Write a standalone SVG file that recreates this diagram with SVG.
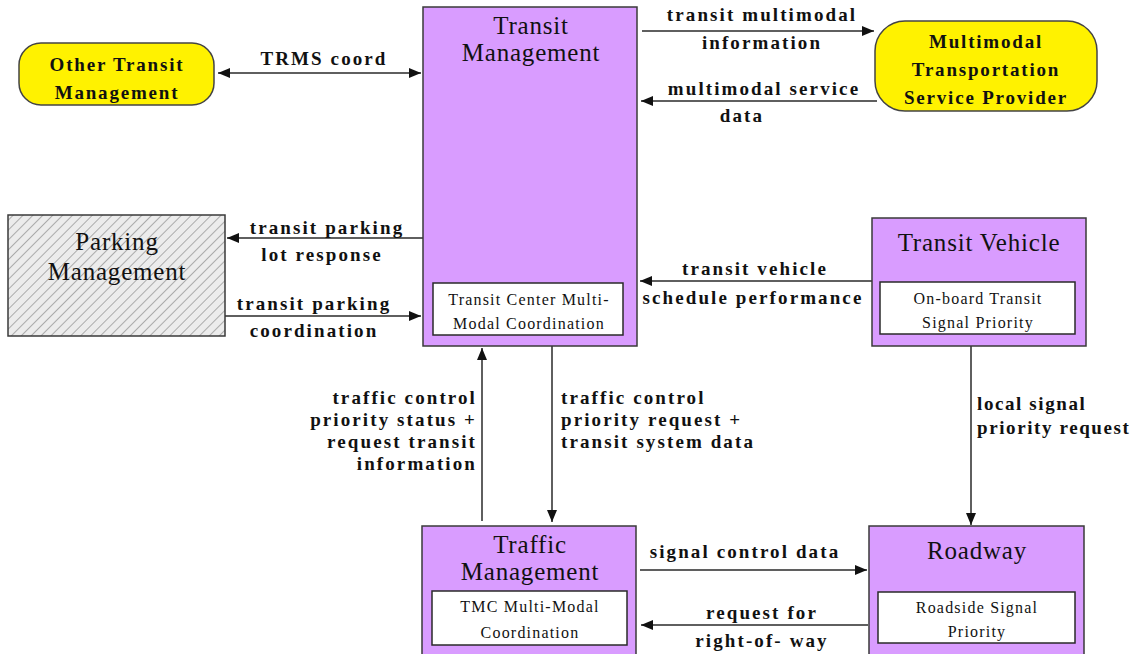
<svg xmlns="http://www.w3.org/2000/svg" width="1138" height="654" viewBox="0 0 1138 654">
  <style>
    .box { fill: #D99CFF; stroke: #3a3a3a; stroke-width: 1.5; }
    .inner { fill: #ffffff; stroke: #2a2a2a; stroke-width: 1.5; }
    .term { fill: #FFF200; stroke: #444444; stroke-width: 1.5; }
    .title { font-family: "Liberation Serif", "Times New Roman", serif; font-size: 25px; fill: #111; text-anchor: middle; letter-spacing: 0.8px; }
    .tbold { font-family: "Liberation Serif", "Times New Roman", serif; font-size: 19px; font-weight: bold; fill: #111; text-anchor: middle; letter-spacing: 1.8px; }
    .small { font-family: "Liberation Serif", "Times New Roman", serif; font-size: 16px; fill: #111; text-anchor: middle; letter-spacing: 1.2px; }
    .lbl { font-family: "Liberation Serif", "Times New Roman", serif; font-size: 19px; font-weight: bold; fill: #111; letter-spacing: 2.1px; }
    .mid { text-anchor: middle; }
    .end { text-anchor: end; }
    .start { text-anchor: start; }
    .tight { letter-spacing: 1.6px; }
    .flow { stroke: #2a2a2a; stroke-width: 1.5; fill: none; marker-end: url(#arrow); }
  </style>
  <defs>
    <marker id="arrow" viewBox="0 0 12 10" refX="12" refY="5" markerWidth="12" markerHeight="10" markerUnits="userSpaceOnUse" orient="auto-start-reverse">
      <path d="M0,0 L12,5 L0,10 Z" fill="#111"/>
    </marker>
    <pattern id="hatch" width="7" height="7" patternUnits="userSpaceOnUse" patternTransform="rotate(45)">
      <rect width="7" height="7" fill="#ececec"/>
      <line x1="0" y1="0" x2="0" y2="7" stroke="#9a9a9a" stroke-width="1.6"/>
    </pattern>
  </defs>

  <rect width="1138" height="654" fill="#ffffff"/>

  <!-- connectors -->
  <g id="connectors">
    <line class="flow" x1="218" y1="73" x2="421" y2="73" marker-start="url(#arrow)"/>
    <line class="flow" x1="642" y1="31" x2="874" y2="31"/>
    <line class="flow" x1="877" y1="101" x2="641" y2="101"/>
    <line class="flow" x1="423" y1="238" x2="227" y2="238"/>
    <line class="flow" x1="225" y1="316" x2="421" y2="316"/>
    <line class="flow" x1="872" y1="281" x2="640" y2="281"/>
    <line class="flow" x1="482" y1="521" x2="482" y2="348"/>
    <line class="flow" x1="552" y1="346" x2="552" y2="522"/>
    <line class="flow" x1="971" y1="346" x2="971" y2="525"/>
    <line class="flow" x1="640" y1="570" x2="867" y2="570"/>
    <line class="flow" x1="868" y1="625" x2="641" y2="625"/>

    <g class="lbl">
      <text class="mid" x="324" y="65">TRMS coord</text>
      <text class="mid" x="762" y="21">transit multimodal</text>
      <text class="mid" x="762" y="49">information</text>
      <text class="mid" x="764" y="95">multimodal service</text>
      <text class="mid" x="742" y="122">data</text>
      <text class="mid" x="327" y="234">transit parking</text>
      <text class="mid" x="322" y="261">lot response</text>
      <text class="mid" x="314" y="310">transit parking</text>
      <text class="mid" x="314" y="337">coordination</text>
      <text class="mid" x="755" y="275">transit vehicle</text>
      <text class="mid" x="753" y="304">schedule performance</text>
      <text class="end" x="477" y="404">traffic control</text>
      <text class="end" x="477" y="426">priority status +</text>
      <text class="end" x="477" y="448">request transit</text>
      <text class="end" x="477" y="470">information</text>
      <text class="start" x="561" y="404">traffic control</text>
      <text class="start" x="561" y="426">priority request +</text>
      <text class="start" x="561" y="448">transit system data</text>
      <text class="start tight" x="977" y="410">local signal</text>
      <text class="start tight" x="977" y="434">priority request</text>
      <text class="mid" x="745" y="558">signal control data</text>
      <text class="mid" x="762" y="619">request for</text>
      <text class="mid" x="762" y="647">right-of- way</text>
    </g>
  </g>

  <!-- nodes -->
  <g id="other-transit-management">
    <rect class="term" x="19" y="43" width="195" height="62" rx="22"/>
    <text class="tbold" x="117" y="71">Other Transit</text>
    <text class="tbold" x="117" y="99">Management</text>
  </g>

  <g id="transit-management">
    <rect class="box" x="423" y="7" width="214" height="339"/>
    <text class="title" x="531" y="34">Transit</text>
    <text class="title" x="531" y="61">Management</text>
    <rect class="inner" x="433" y="283" width="190" height="52"/>
    <text class="small" x="529" y="305">Transit Center Multi-</text>
    <text class="small" x="529" y="329">Modal Coordination</text>
  </g>

  <g id="multimodal-provider">
    <rect class="term" x="875" y="21" width="222" height="90" rx="30"/>
    <text class="tbold" x="986" y="48">Multimodal</text>
    <text class="tbold" x="986" y="76">Transportation</text>
    <text class="tbold" x="986" y="104">Service Provider</text>
  </g>

  <g id="parking-management">
    <rect x="8" y="215" width="217" height="121" fill="url(#hatch)" stroke="#3a3a3a" stroke-width="1.5"/>
    <text class="title" x="117" y="250">Parking</text>
    <text class="title" x="117" y="280">Management</text>
  </g>

  <g id="transit-vehicle">
    <rect class="box" x="872" y="218" width="214" height="128"/>
    <text class="title" x="979" y="251">Transit Vehicle</text>
    <rect class="inner" x="880" y="282" width="195" height="52"/>
    <text class="small" x="978" y="304">On-board Transit</text>
    <text class="small" x="978" y="328">Signal Priority</text>
  </g>

  <g id="traffic-management">
    <rect class="box" x="422" y="526" width="214" height="135"/>
    <text class="title" x="530" y="553">Traffic</text>
    <text class="title" x="530" y="580">Management</text>
    <rect class="inner" x="432" y="591" width="195" height="54"/>
    <text class="small" x="530" y="612">TMC Multi-Modal</text>
    <text class="small" x="530" y="638">Coordination</text>
  </g>

  <g id="roadway">
    <rect class="box" x="869" y="526" width="215" height="135"/>
    <text class="title" x="977" y="559">Roadway</text>
    <rect class="inner" x="878" y="592" width="197" height="51"/>
    <text class="small" x="977" y="613">Roadside Signal</text>
    <text class="small" x="977" y="637">Priority</text>
  </g>
</svg>
